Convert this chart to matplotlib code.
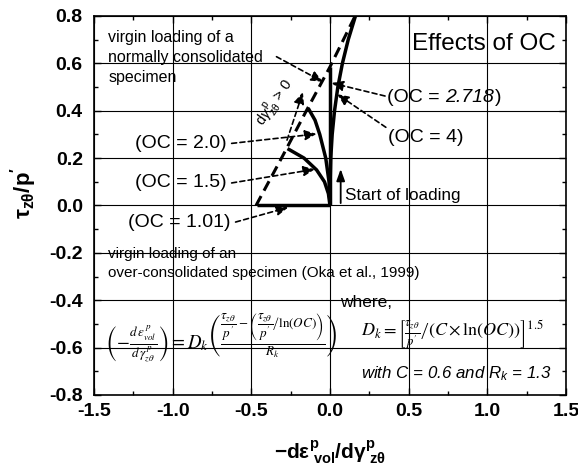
import matplotlib
matplotlib.use("Agg")
import matplotlib.pyplot as plt
import numpy as np
from matplotlib.ticker import MultipleLocator

plt.rcParams['font.family'] = ['Liberation Sans', 'DejaVu Sans']
plt.rcParams['mathtext.fontset'] = 'custom'
plt.rcParams['mathtext.rm'] = 'Liberation Sans'
plt.rcParams['mathtext.it'] = 'Liberation Sans:italic'
plt.rcParams['mathtext.bf'] = 'Liberation Sans:bold'

# virgin loading line of a normally consolidated specimen
nc_x = [-0.47, -0.30, -0.15, 0.0, 0.16]
nc_y = [0.0, 0.21, 0.40, 0.585, 0.80]

# over-consolidated paths
oc101_x = [-0.465, 0.0]
oc101_y = [0.0, 0.0]
oc15_x = [0.0, -0.010, -0.035, -0.085, -0.165, -0.270]
oc15_y = [0.0, 0.05, 0.10, 0.15, 0.20, 0.24]
oc2_x = [0.0, -0.006, -0.027, -0.065, -0.095, -0.138]
oc2_y = [0.0, 0.10, 0.20, 0.30, 0.36, 0.41]
oc2718_x = [0.0, 0.0]
oc2718_y = [0.0, 0.585]
oc4_x = [0.0, 0.001, 0.005, 0.014, 0.029, 0.050, 0.079, 0.116, 0.162]
oc4_y = [0.0, 0.1, 0.2, 0.3, 0.4, 0.5, 0.6, 0.7, 0.8]

xticks = [-1.5, -1.0, -0.5, 0.0, 0.5, 1.0, 1.5]
yticks = [-0.8, -0.6, -0.4, -0.2, 0.0, 0.2, 0.4, 0.6, 0.8]

# labels: (text, label position, arrow tip)
labels = [
    ("(OC = 2.0)", (-0.655, 0.262), (-0.085, 0.302)),
    ("(OC = 1.5)", (-0.655, 0.095), (-0.095, 0.153)),
    ("(OC = 1.01)", (-0.630, -0.070), (-0.265, -0.008)),
]

fig = plt.figure(figsize=(5.78, 4.69), dpi=100)
ax = fig.add_axes([0.1626, 0.1578, 0.8166, 0.8082])

ax.set_xlim(-1.5, 1.5)
ax.set_ylim(-0.8, 0.8)
ax.xaxis.set_minor_locator(MultipleLocator(0.25))
ax.yaxis.set_minor_locator(MultipleLocator(0.1))
ax.set_xticks(xticks)
ax.set_xticklabels(['%.1f' % v for v in xticks], fontsize=14, fontweight='bold')
ax.set_yticks(yticks)
ax.set_yticklabels(['%.1f' % v for v in yticks], fontsize=14, fontweight='bold')
ax.grid(True, which='major', color='k', lw=0.8)
ax.set_axisbelow(True)
ax.tick_params(which='both', direction='in', top=True, right=True, width=1)
ax.tick_params(which='major', length=5)
ax.tick_params(which='minor', length=3)
ax.tick_params(axis='x', pad=6)
ax.tick_params(axis='y', pad=8)
for s in ax.spines.values():
    s.set_linewidth(1.2)

ax.set_xlabel(r'$\mathbf{-d\epsilon^{p}_{\ vol}/d\gamma^{p}_{\ z\theta}}$', fontsize=15)
ax.set_ylabel(r"$\mathbf{\tau_{z\theta}/p^{\prime}}$", fontsize=16)
ax.xaxis.set_label_coords(0.5, -0.115)
ax.yaxis.set_label_coords(-0.117, 0.533)

# curves
ax.plot(nc_x, nc_y, color='k', lw=2.2, ls=(0, (3.5, 2)))
for xs, ys in [(oc101_x, oc101_y), (oc15_x, oc15_y), (oc2_x, oc2_y),
               (oc2718_x, oc2718_y), (oc4_x, oc4_y)]:
    ax.plot(xs, ys, color='k', lw=2.5, solid_capstyle='butt')

arr = dict(arrowstyle='-|>,head_length=0.7,head_width=0.3', color='k', lw=1.2,
           ls=(0, (3, 2)), shrinkA=0, shrinkB=0)

for txt, pos, tip in labels:
    ax.text(pos[0], pos[1], txt, fontsize=14, ha='right', va='center')
    ax.annotate('', xy=tip, xytext=(pos[0] + 0.03, pos[1]), arrowprops=arr)

# (OC = 2.718) with the number in italics
t1 = ax.text(0.365, 0.435, '(OC =', fontsize=14, ha='left', va='baseline')
t2 = ax.annotate('2.718', xy=(1, 0.435), xycoords=(t1, 'data'), xytext=(4, 0),
                 textcoords='offset points', fontsize=14, style='italic',
                 ha='left', va='baseline')
ax.annotate(')', xy=(1, 0.435), xycoords=(t2, 'data'), xytext=(0.5, 0),
            textcoords='offset points', fontsize=14, ha='left', va='baseline')
ax.annotate('', xy=(0.01, 0.517), xytext=(0.35, 0.462), arrowprops=arr)

ax.text(0.37, 0.285, '(OC = 4)', fontsize=14, ha='left', va='center')
ax.annotate('', xy=(0.045, 0.47), xytext=(0.355, 0.33), arrowprops=arr)

ax.text(0.52, 0.68, 'Effects of OC', fontsize=17.5, ha='left', va='center')

ax.text(-1.41, 0.74, 'virgin loading of a\nnormally consolidated\nspecimen',
        fontsize=11.5, ha='left', va='top', linespacing=1.4)
ax.annotate('', xy=(-0.045, 0.522), xytext=(-0.34, 0.628), arrowprops=arr)

# d gamma > 0 direction
ax.annotate('', xy=(-0.172, 0.479), xytext=(-0.273, 0.276), arrowprops=arr)
ax.text(-0.35, 0.432, r'd$\gamma^{\rm p}_{\rm z\theta}$ > 0', fontsize=10.5, rotation=55,
        ha='center', va='center')

ax.annotate('', xy=(0.068, 0.154), xytext=(0.068, 0.01),
            arrowprops=dict(arrowstyle='-|>,head_length=0.7,head_width=0.25',
                            color='k', lw=1.3, shrinkA=0, shrinkB=0))
ax.text(0.095, 0.044, 'Start of loading', fontsize=12.3, ha='left', va='center')

ax.text(-1.41, -0.245, 'virgin loading of an\nover-consolidated specimen (Oka et al., 1999)',
        fontsize=11, ha='left', va='center', linespacing=1.45)

# equations
ax.text(-1.43, -0.558,
        '$\\left(\u2212\\frac{d\\,\\epsilon^{\\,p}_{vol}}{d\\,\\gamma^{\\,p}_{z\\theta}}\\right)=D_k'
        r'\left(\frac{\dfrac{\tau_{z\theta}}{p^{\prime}}-\left(\dfrac{\tau_{z\theta}}{p^{\prime}}'
        r'\left/\ln(OC)\right.\right)}{R_k}\right)$',
        fontsize=13.5, ha='left', va='center', math_fontfamily='stix')
ax.text(0.065, -0.41, 'where,', fontsize=12.5, ha='left', va='center')
ax.text(0.20, -0.55,
        r'$D_k=\left[\frac{\tau_{z\theta}}{p^{\prime}}\left/(C\times\ln(OC))\right.\right]^{1.5}$',
        fontsize=13, ha='left', va='center', math_fontfamily='stix')
ax.text(0.20, -0.708, r'with C = 0.6 and R$_k$ = 1.3', fontsize=12.2, ha='left',
        va='center', style='italic')

plt.savefig('out.png', dpi=100)
plt.close()
